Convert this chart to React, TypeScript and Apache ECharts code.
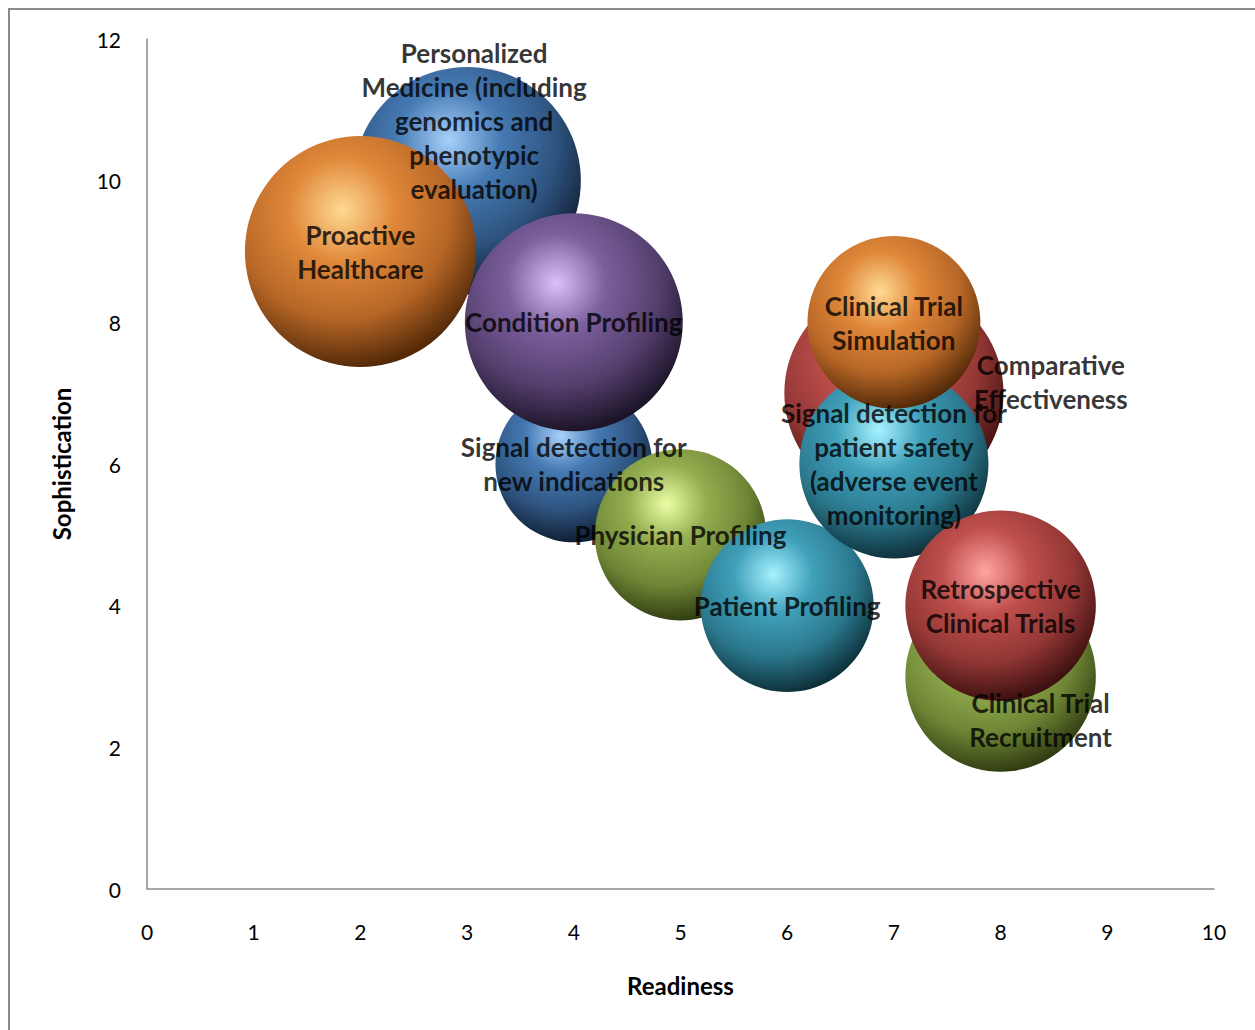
import React, { useEffect, useRef } from "react";
import * as echarts from "echarts";

// ---- data ----
const names: string[] = [
  "Personalized\nMedicine (including\ngenomics and\nphenotypic\nevaluation)",
  "Signal detection for\nnew indications",
  "Condition Profiling",
  "Proactive\nHealthcare",
  "Physician Profiling",
  "Patient Profiling",
  "Comparative\nEffectiveness",
  "Signal detection for\npatient safety\n(adverse event\nmonitoring)",
  "Clinical Trial\nSimulation",
  "Clinical Trial\nRecruitment",
  "Retrospective\nClinical Trials",
];
const readiness: number[] = [3, 4, 4, 2, 5, 6, 7, 7, 7, 8, 8];
const sophistication: number[] = [10, 6, 8, 9, 5, 4, 7, 6, 8, 3, 4];
const bubbleSize: number[] = [9.7, 4.6, 8.9, 10, 5.5, 5.6, 9.0, 6.7, 5.6, 6.8, 6.8];
const colorKeys: string[] = ["blue", "blue", "purple", "orange", "green", "aqua", "red", "aqua", "orange", "green", "red"];
const xTicks: number[] = [0, 1, 2, 3, 4, 5, 6, 7, 8, 9, 10];
const yTicks: number[] = [0, 2, 4, 6, 8, 10, 12];

// ---- styles ----
const palette: Record<string, [string, string, string, string]> = {
  blue: ["#a8d0fa", "#467ab3", "#2e5480", "#101e32"],
  purple: ["#dcc0f8", "#7a5f9c", "#553f6e", "#1c1428"],
  orange: ["#ffd993", "#e0883a", "#b66626", "#552a08"],
  green: ["#ecffa6", "#94ae50", "#6f8736", "#323e12"],
  aqua: ["#a6f2ff", "#40a0ba", "#2b788d", "#0e323c"],
  red: ["#ffa4a2", "#bf4f4c", "#923735", "#3e1010"],
};
const labelOffsets: [number, number][] = [
  [7, -60], [0, 0], [0, 0], [0, 0], [0, 0], [0, 0], [157, -11], [0, 0], [0, 1], [40, 43], [0, 0],
];
const MAX_D = 231;

function sphere(key: string) {
  const c = palette[key];
  return new echarts.graphic.RadialGradient(0.42, 0.32, 0.76, [
    { offset: 0, color: c[0] },
    { offset: 0.3, color: c[1] },
    { offset: 0.62, color: c[2] },
    { offset: 0.9, color: c[3] },
    { offset: 1, color: c[3] },
  ]);
}

export default function App() {
  const ref = useRef<HTMLDivElement>(null);
  useEffect(() => {
    if (!ref.current) return;
    const chart = echarts.init(ref.current, null, { renderer: "svg" });
    const fontFamily = "Lato, 'Open Sans', sans-serif";
    const bubbleData = names.map((n, i) => ({
      name: n,
      value: [readiness[i], sophistication[i], bubbleSize[i]],
      itemStyle: { color: sphere(colorKeys[i]), opacity: 1 },
    }));
    const labelData = names.map((n, i) => ({
      name: n,
      value: [readiness[i], sophistication[i]],
    }));
    chart.setOption({
      animation: false,
      backgroundColor: "#ffffff",
      graphic: [
        {
          type: "rect",
          shape: { x: 9, y: 9, width: 1300, height: 1100 },
          style: { fill: "none", stroke: "#8a8a8a", lineWidth: 2 },
          silent: true,
          z: -1,
        },
      ],
      grid: { left: 147, right: 41, top: 39, bottom: 141 },
      xAxis: {
        type: "value",
        min: xTicks[0],
        max: xTicks[xTicks.length - 1],
        interval: 1,
        name: "Readiness",
        nameLocation: "middle",
        nameGap: 84,
        nameTextStyle: { fontFamily, fontWeight: "bold", fontSize: 24, color: "#000" },
        axisLine: { lineStyle: { color: "#8a8a8a", width: 1.5 } },
        axisTick: { show: false },
        splitLine: { show: false },
        axisLabel: { fontFamily, fontSize: 21, color: "#000", margin: 32 },
      },
      yAxis: {
        type: "value",
        min: yTicks[0],
        max: yTicks[yTicks.length - 1],
        interval: 2,
        name: "Sophistication",
        nameLocation: "middle",
        nameGap: 74,
        nameRotate: 90,
        nameTextStyle: { fontFamily, fontWeight: "bold", fontSize: 24, color: "#000" },
        axisLine: { show: true, lineStyle: { color: "#8a8a8a", width: 1.5 } },
        axisTick: { show: false },
        splitLine: { show: false },
        axisLabel: { fontFamily, fontSize: 21, color: "#000", margin: 26 },
      },
      series: [
        {
          type: "scatter",
          data: bubbleData,
          symbol: "circle",
          symbolSize: (v: number[]) => MAX_D * Math.sqrt(v[2] / 10),
          itemStyle: { opacity: 1 },
          label: { show: false },
          emphasis: { disabled: true },
          z: 2,
        },
        {
          type: "scatter",
          data: labelData,
          symbolSize: 1,
          itemStyle: { color: "rgba(0,0,0,0)" },
          label: {
            show: true,
            position: "inside",
            formatter: (p: any) => p.name,
            fontFamily,
            fontWeight: "bold",
            fontSize: 26,
            lineHeight: 34,
            color: "#000",
            align: "center",
          },
          labelLayout: (p: any) => ({
            dx: labelOffsets[p.dataIndex][0],
            dy: labelOffsets[p.dataIndex][1],
            hideOverlap: false,
          }),
          emphasis: { disabled: true },
          z: 10,
        },
      ],
    });
    return () => chart.dispose();
  }, []);
  return (
    <div
      ref={ref}
      style={{ position: "absolute", left: 0, top: 0, width: 1255, height: 1030 }}
    />
  );
}
